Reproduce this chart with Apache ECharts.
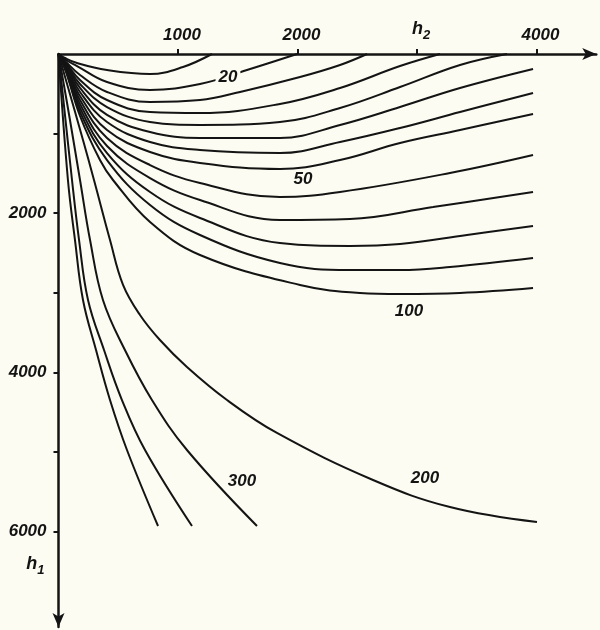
<!DOCTYPE html>
<html>
<head>
<meta charset="utf-8">
<script src="https://cdn.jsdelivr.net/npm/echarts@6/dist/echarts.min.js"></script>
<style>
  html, body { margin: 0; padding: 0; background: #fcfcf2; }
  #chart { width: 600px; height: 630px; }
</style>
</head>
<body>
<div id="chart"></div>
<script>
// Axis ticks and labels (h2 horizontal, h1 vertical downward)
const h2Ticks = [1000, 2000, 3000, 4000];
const h2Labels = { 1000: '1000', 2000: '2000', 3000: 'h2', 4000: '4000' };
const h1Ticks = [1000, 2000, 3000, 4000, 5000, 6000];
const h1LabelValues = [2000, 4000, 6000, 6450];
const h1Labels = { 2000: '2000', 4000: '4000', 6000: '6000', 6450: 'h1' };

// Contour levels and their curves, points as [h2, h1]
const levels = [10, 20, 25, 30, 35, 40, 45, 50, 60, 70, 80, 90, 100, 200, 300, 400, 500];
const curve10 = [[0,0],[54,50],[155,113],[406,201],[766,251],[1042,163],[1284,0]];
const curve20 = [[0,0],[63,75],[155,151],[406,352],[766,452],[1184,377],[1577,201],[1996,0]];
const curve25 = [[0,0],[63,100],[180,264],[406,477],[766,603],[1184,578],[1519,477],[2021,289],[2356,138],[2582,0]];
const curve30 = [[0,0],[63,113],[180,327],[406,578],[766,729],[1184,741],[1853,628],[2356,427],[2858,151],[3192,0]];
const curve35 = [[0,0],[63,126],[180,377],[406,666],[766,854],[1184,892],[1853,854],[2356,678],[2858,415],[3360,138],[3753,0]];
const curve40 = [[0,0],[63,138],[180,427],[406,766],[766,980],[1184,1055],[1853,1055],[2356,892],[2858,666],[3360,427],[3971,188]];
const curve45 = [[0,0],[63,151],[180,477],[406,854],[766,1106],[1184,1206],[1853,1244],[2356,1106],[2858,930],[3360,729],[3971,490]];
const curve50 = [[0,0],[63,163],[180,528],[406,955],[766,1231],[1184,1369],[1853,1445],[2356,1332],[2858,1118],[3360,955],[3971,754]];
const curve60 = [[0,0],[63,176],[180,578],[406,1055],[766,1395],[1184,1621],[1853,1797],[2356,1734],[3276,1495],[3971,1269]];
const curve70 = [[0,0],[63,188],[180,628],[406,1156],[766,1558],[1184,1834],[1853,2085],[2439,2073],[3134,1922],[3971,1734]];
const curve80 = [[0,0],[63,201],[180,678],[406,1244],[766,1734],[1184,2060],[1853,2374],[2439,2412],[2858,2387],[3418,2274],[3971,2161]];
const curve90 = [[0,0],[63,214],[180,729],[406,1332],[766,1897],[1184,2274],[1853,2626],[2439,2714],[2858,2714],[3276,2676],[3971,2563]];
const curve100 = [[0,0],[63,226],[180,779],[347,1332],[456,1583],[766,2111],[1184,2525],[2021,2902],[2523,3002],[2858,3015],[3360,3002],[3971,2940]];
const curve200 = [[0,0],[205,1080],[297,1583],[431,2337],[540,2900],[682,3279],[849,3593],[1075,3932],[1410,4347],[1828,4761],[2632,5352],[3276,5692],[4004,5880]];
const curve300 = [[0,0],[96,829],[180,1583],[264,2337],[372,3090],[556,3719],[782,4347],[1075,4975],[1661,5930]];
const curve400 = [[0,0],[113,1583],[172,2337],[247,3090],[381,3719],[531,4347],[724,4975],[1117,5930]];
const curve500 = [[0,0],[79,1583],[138,2337],[205,3090],[314,3719],[431,4347],[573,4975],[833,5930]];
const curves = [curve10, curve20, curve25, curve30, curve35, curve40, curve45, curve50, curve60,
                curve70, curve80, curve90, curve100, curve200, curve300, curve400, curve500];

// Contour labels: [h2, h1, text]
const contourLabels = [[1418, 289, '20'], [2046, 1570, '50'], [2933, 3229, '100'], [3067, 5327, '200'], [1536, 5364, '300']];

const BG = '#fcfcf2';
const INK = '#141414';
const FONT = 'Liberation Sans';

const chart = echarts.init(document.getElementById('chart'), null, { renderer: 'canvas' });

const series = curves.map((pts, i) => ({
  name: String(levels[i]),
  type: 'line',
  data: pts,
  showSymbol: false,
  smooth: 0.4,
  lineStyle: { color: INK, width: 2 },
  silent: true,
  z: 2
}));

series.push({
  type: 'scatter',
  data: contourLabels,
  symbolSize: 1,
  itemStyle: { color: BG, opacity: 1 },
  silent: true,
  z: 10,
  label: {
    show: true,
    position: 'inside',
    formatter: p => p.value[2],
    color: INK,
    opacity: 1,
    fontFamily: FONT,
    fontStyle: 'italic',
    fontWeight: 'bold',
    fontSize: 17,
    backgroundColor: BG,
    padding: [0, 3]
  }
});

const richStyle = (sub) => ({
  h: { fontFamily: FONT, fontStyle: 'italic', fontWeight: 'bold', fontSize: 18, color: INK, padding: [0, 0, 6, 0] },
  s: { fontFamily: FONT, fontStyle: 'italic', fontWeight: 'bold', fontSize: 13, color: INK, padding: sub }
});

chart.setOption({
  backgroundColor: BG,
  animation: false,
  grid: { left: 58.5, top: 54, width: 537.75, height: 573.1, containLabel: false },
  xAxis: {
    type: 'value',
    position: 'top',
    min: 0,
    max: 4500,
    splitLine: { show: false },
    axisLine: {
      show: true, onZero: false,
      symbol: ['none', 'arrow'], symbolSize: [9, 14],
      lineStyle: { color: INK, width: 2.5 }
    },
    axisTick: { show: true, customValues: h2Ticks, length: 5, lineStyle: { color: INK, width: 2 } },
    axisLabel: {
      customValues: h2Ticks,
      margin: 10,
      padding: [0, 0, 0, 8],
      formatter: v => (v === 3000 ? '{h|h}{s|2}' : (h2Labels[v] || '')),
      color: INK,
      fontFamily: FONT,
      fontStyle: 'italic',
      fontWeight: 'bold',
      fontSize: 17,
      rich: richStyle([6, 0, 0, 0])
    }
  },
  yAxis: {
    type: 'value',
    inverse: true,
    position: 'left',
    min: 0,
    max: 7200,
    splitLine: { show: false },
    axisLine: {
      show: true, onZero: false,
      symbol: ['arrow', 'none'], symbolSize: [9, 14],
      lineStyle: { color: INK, width: 2.5 }
    },
    axisTick: { show: true, customValues: h1Ticks, length: 5, lineStyle: { color: INK, width: 2 } },
    axisLabel: {
      customValues: h1LabelValues,
      margin: 12,
      formatter: v => (v === 6450 ? '{h|h}{s|1}' : (h1Labels[v] || '')),
      color: INK,
      fontFamily: FONT,
      fontStyle: 'italic',
      fontWeight: 'bold',
      fontSize: 17,
      rich: richStyle([6, 2, 0, 0])
    }
  },
  series: series
});
</script>
</body>
</html>
